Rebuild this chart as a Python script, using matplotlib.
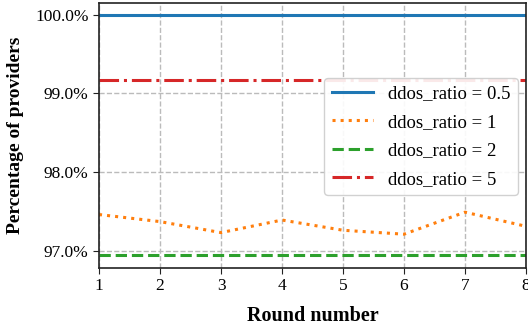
import matplotlib
matplotlib.use("Agg")
import matplotlib.pyplot as plt
from matplotlib.ticker import FuncFormatter

rounds = [1, 2, 3, 4, 5, 6, 7, 8]
ratio_05 = [100.0] * 8
ratio_1 = [97.46, 97.37, 97.23, 97.39, 97.26, 97.21, 97.49, 97.31]
ratio_2 = [96.94] * 8
ratio_5 = [99.165] * 8

plt.rcParams['font.family'] = ['Liberation Serif', 'DejaVu Serif']
plt.rcParams['font.size'] = 12

fig = plt.figure(figsize=(5.28, 3.29), dpi=100)
ax = fig.add_axes([99/528, 1-268/329, (526-99)/528, (268-3)/329])

ax.plot(rounds, ratio_05, color='#1f77b4', lw=2.2, ls='-', label='ddos_ratio = 0.5')
ax.plot(rounds, ratio_1, color='#ff7f0e', lw=2.2, ls=':', label='ddos_ratio = 1')
ax.plot(rounds, ratio_2, color='#2ca02c', lw=2.2, ls='--', label='ddos_ratio = 2')
ax.plot(rounds, ratio_5, color='#d62728', lw=2.2, ls='-.', label='ddos_ratio = 5')

ax.set_xlim(1, 8)
ax.set_ylim(96.78, 100.15)
ax.set_xticks(rounds)
ax.set_yticks([97, 98, 99, 100])
ax.yaxis.set_major_formatter(FuncFormatter(lambda v, p: f"{v:.1f}%"))
ax.grid(True, ls='--', color='#bbbbbb', lw=1)
for s in ax.spines.values():
    s.set_color('#222222')
    s.set_linewidth(1.2)
ax.tick_params(direction='out', length=4, color='#222222', labelsize=12.5)
ax.set_xlabel('Round number', fontweight='bold', fontsize=14.5, labelpad=8)
ax.set_ylabel('Percentage of providers', fontweight='bold', fontsize=14, labelpad=8)
ax.legend(loc='upper right', bbox_to_anchor=(0.981, 0.717), borderaxespad=0,
          fontsize=13.5, framealpha=0.9, edgecolor='#cccccc', fancybox=True,
          handlelength=2.2, labelspacing=0.6)

fig.savefig('out.png', dpi=100)
